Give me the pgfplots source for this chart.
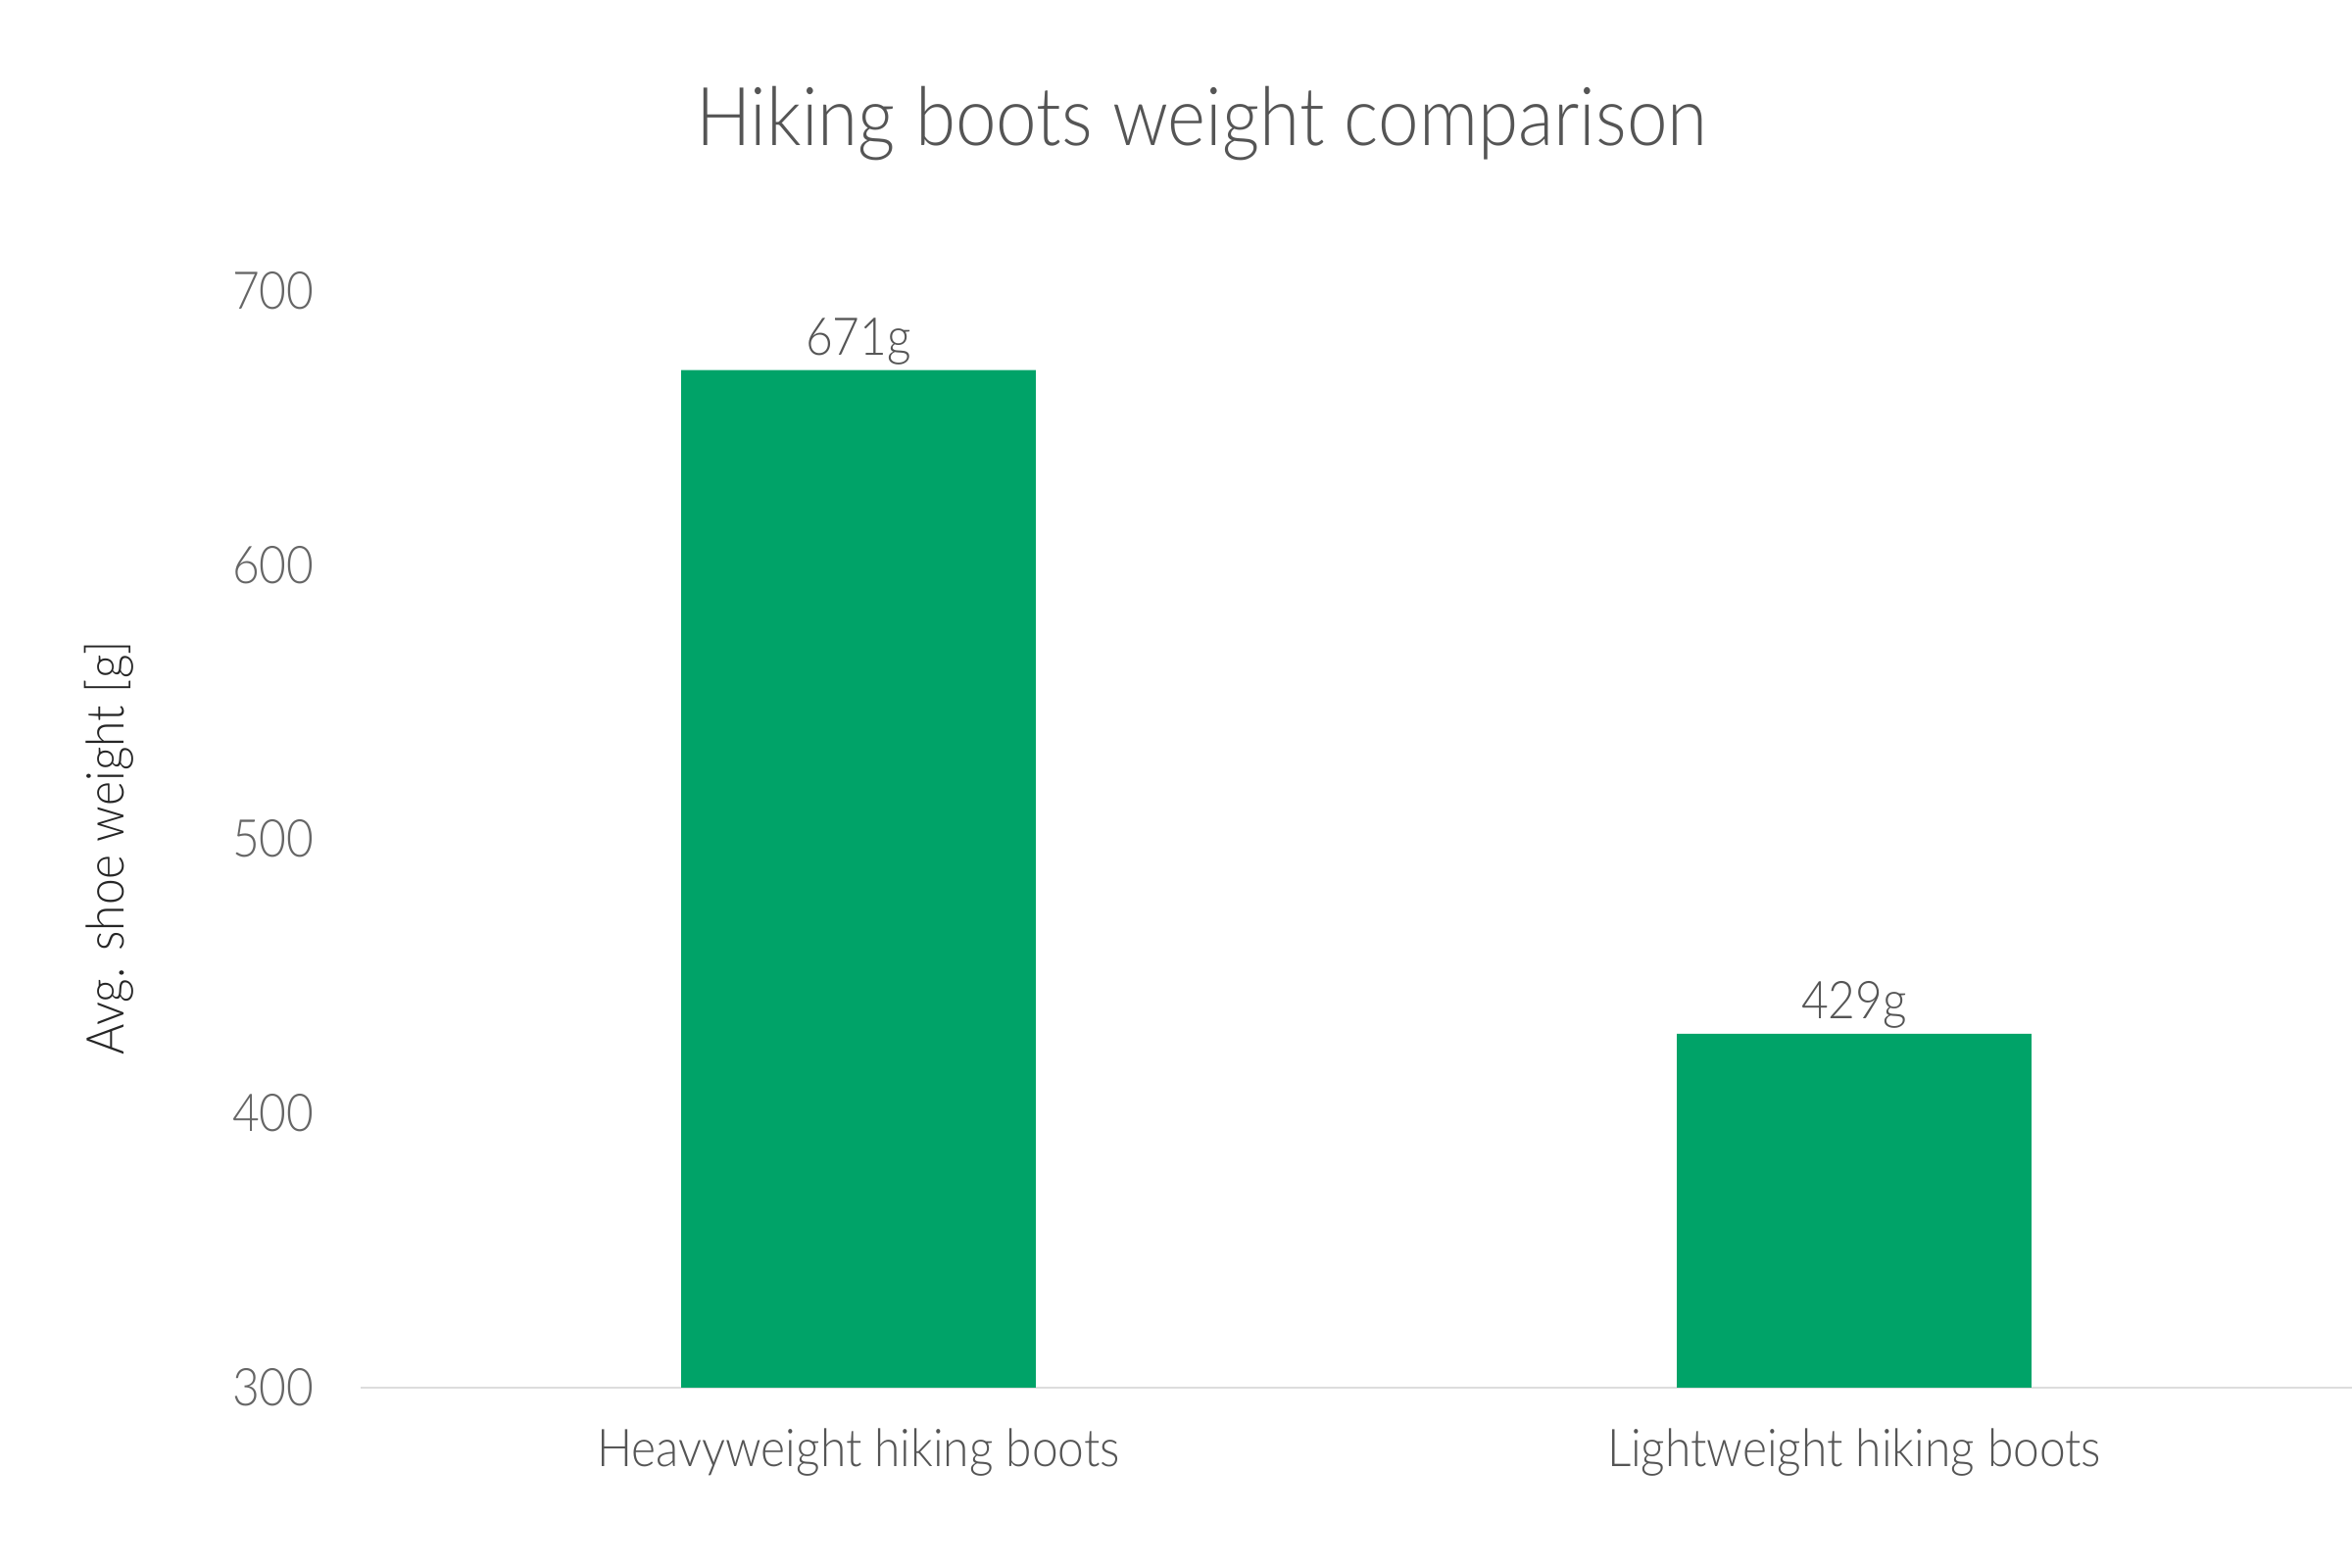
\documentclass[border=0pt]{standalone}
\usepackage{fontspec}
\setmainfont{Lato}[UprightFont=* Light, FakeStretch=0.9]
\usepackage{pgfplots}
\pgfplotsset{compat=1.18}
\definecolor{bargreen}{RGB}{0,163,104}
\definecolor{txtgray}{RGB}{85,85,85}
\definecolor{tickgray}{RGB}{102,102,102}
\definecolor{basegray}{RGB}{221,221,221}
\begin{document}
\begin{tikzpicture}
\begin{axis}[
    at={(59.5pt,29.75pt)}, anchor=south west,
    scale only axis, width=328.5pt, height=181pt,
    xmin=-0.5, xmax=1.5, ymin=300, ymax=700,
    ybar, bar width=58.5pt, bar shift=0pt,
    axis x line*=bottom, axis y line*=left,
    x axis line style={draw=basegray, line width=0.3pt, -},
    y axis line style={draw=none},
    major tick length=0pt,
    xtick={0,1},
    xticklabels={Heavyweight hiking boots, Lightweight hiking boots},
    ytick={300,400,500,600,700},
    /pgf/number format/assume math mode=true,
    tick label style={font=\fontsize{8.6}{10}\selectfont},
    xticklabel style={text=txtgray, anchor=base, inner sep=0pt, yshift=-13pt},
    yticklabel style={text=tickgray, anchor=east, inner sep=0pt, xshift=-7.5pt},
    ylabel={Avg. shoe weight [g]},
    ylabel style={font=\fontsize{8.6}{10}\selectfont, text=black!85,
        at={(axis description cs:-0.1263,0.4917)}, anchor=center, rotate=0},
    nodes near coords={\pgfmathprintnumber{\pgfplotspointmeta}g},
    nodes near coords style={font=\fontsize{8.6}{10}\selectfont, text=txtgray,
        anchor=base, inner sep=0pt, yshift=2.5pt},
]
\addplot[draw=none, fill=bargreen] coordinates {(0,671) (1,429)};
\end{axis}
\node[text=txtgray, font=\fontsize{13.4}{16}\selectfont] at (198.25pt,238.25pt) {Hiking boots weight comparison};
\pgfresetboundingbox
\path (0,0) rectangle (388pt,258.67pt);
\end{tikzpicture}
\end{document}
